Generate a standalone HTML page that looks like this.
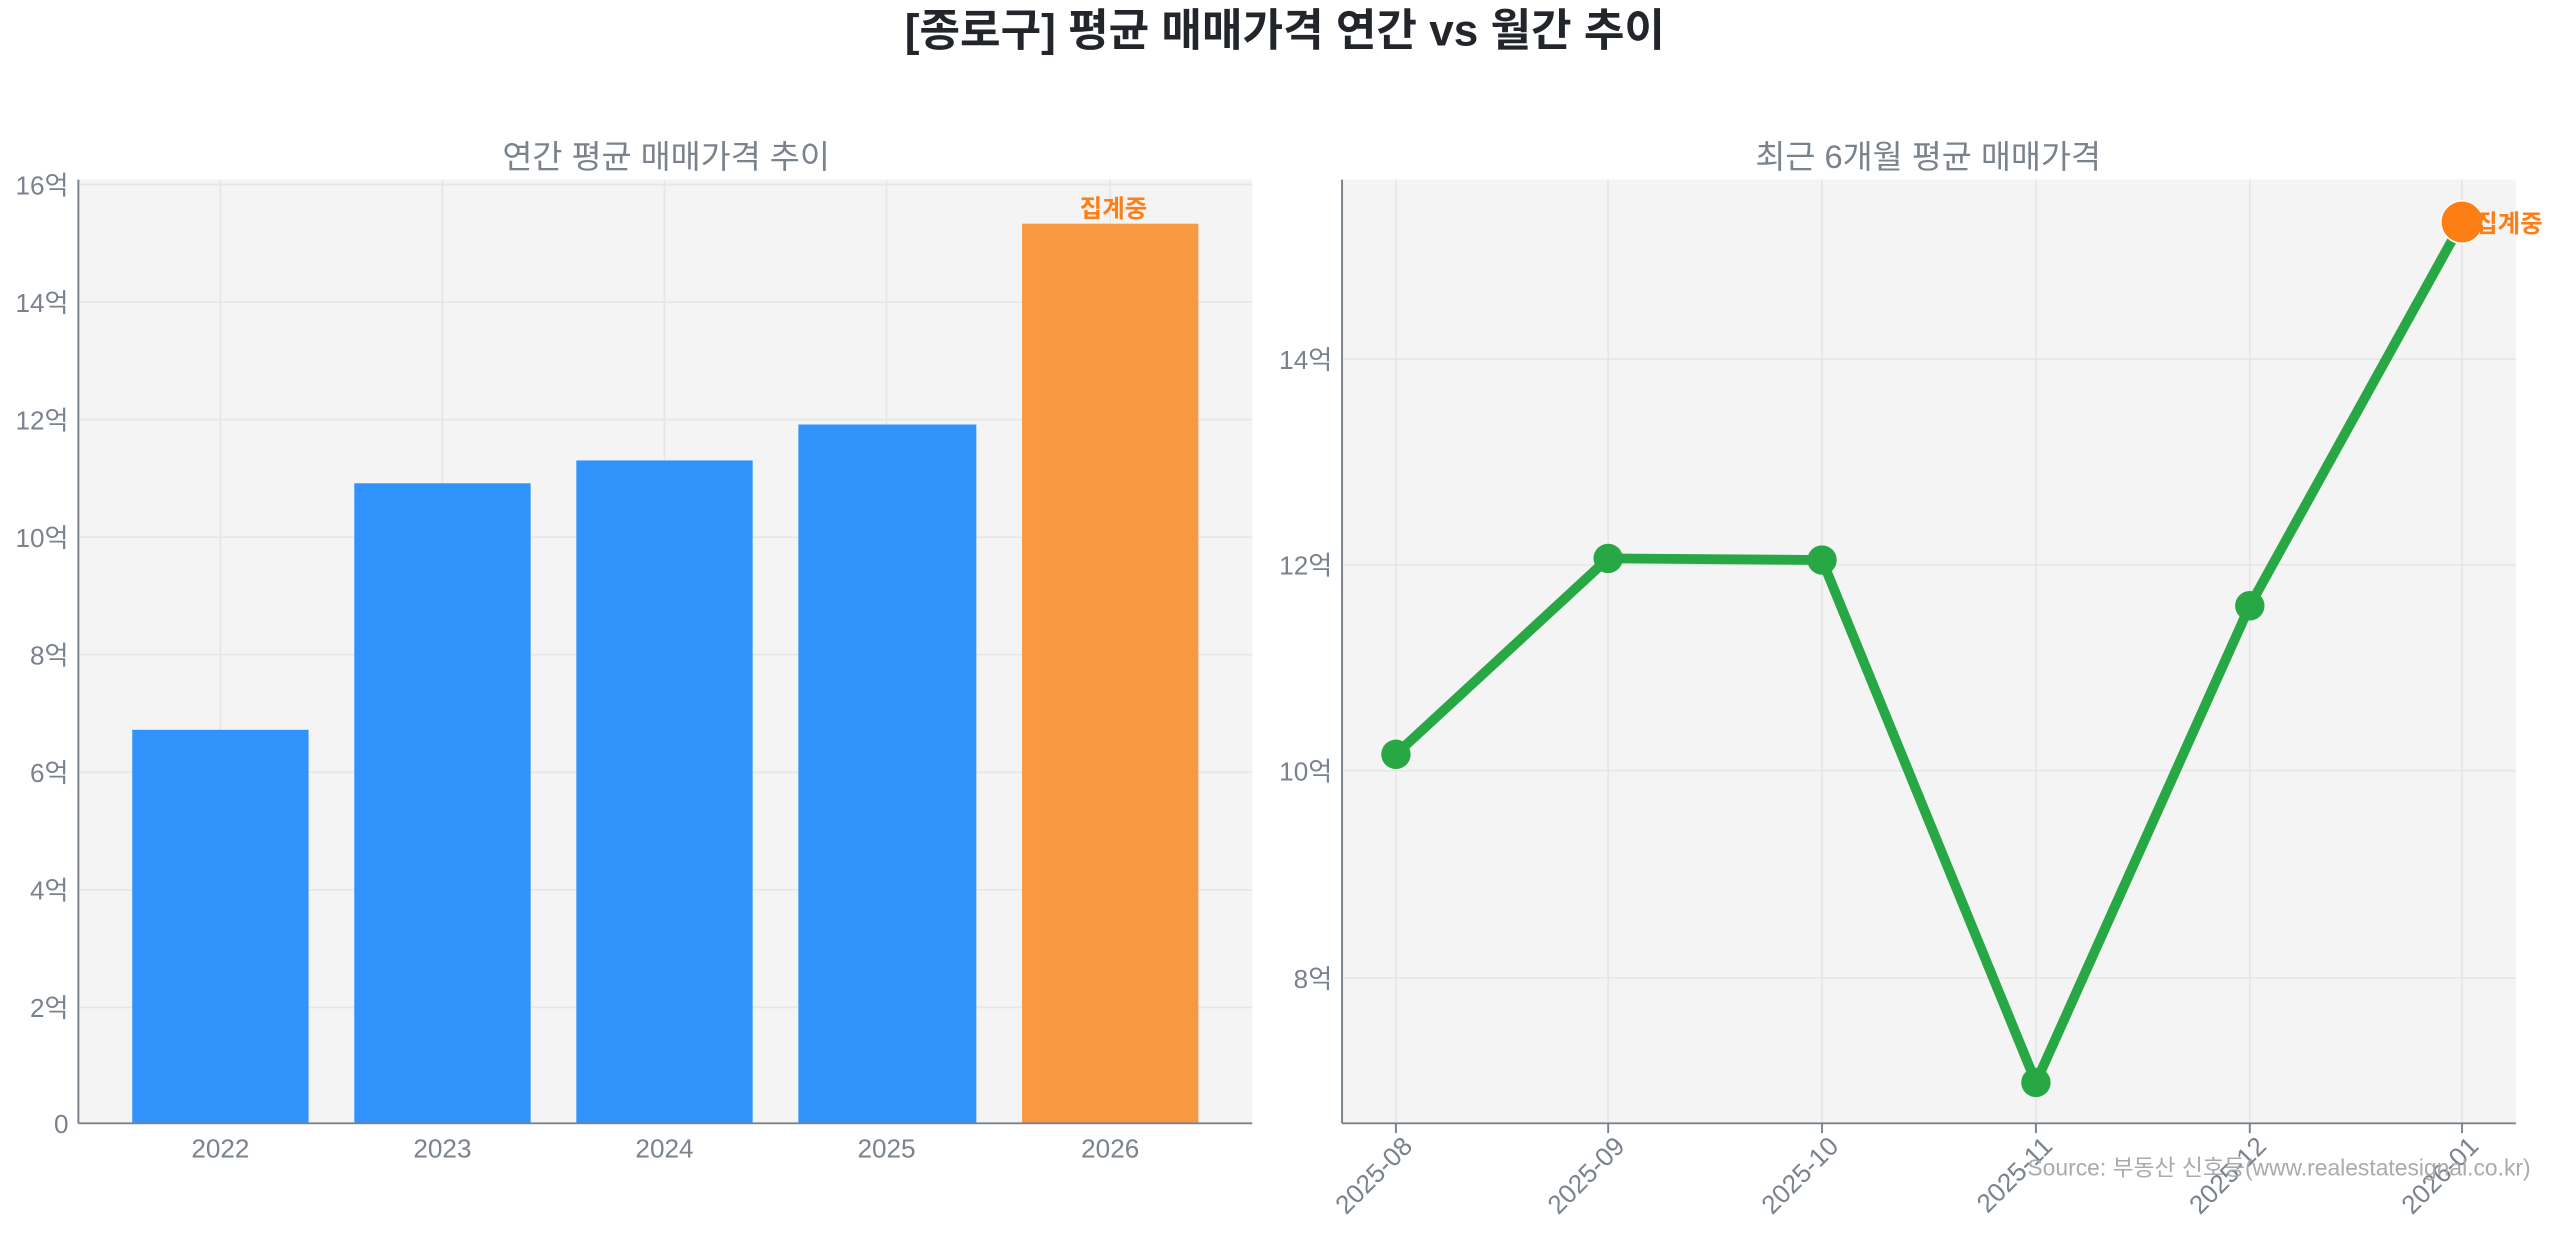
<!DOCTYPE html>
<html><head><meta charset="utf-8"><style>
html,body{margin:0;padding:0;background:#fff;}
svg{display:block;font-family:"Liberation Sans","Noto Sans CJK KR",sans-serif;}
</style></head><body>
<svg width="2560" height="1235" viewBox="0 0 1568 756.4" xmlns="http://www.w3.org/2000/svg">
<rect width="1568" height="756.4" fill="#fff"/>
<text x="787" y="28" text-anchor="middle" font-size="27" font-weight="bold" fill="#22262b">[종로구] 평균 매매가격 연간 vs 월간 추이</text>
<!-- left -->
<text x="408" y="103" text-anchor="middle" font-size="20" fill="#7a828c">연간 평균 매매가격 추이</text>
<rect x="48" y="110" width="719" height="578" fill="#f4f4f4"/>
<g stroke="#e6e6e6" stroke-width="1">
<line x1="48" x2="767" y1="113" y2="113"/><line x1="48" x2="767" y1="185" y2="185"/><line x1="48" x2="767" y1="257" y2="257"/><line x1="48" x2="767" y1="329" y2="329"/><line x1="48" x2="767" y1="401" y2="401"/><line x1="48" x2="767" y1="473" y2="473"/><line x1="48" x2="767" y1="545" y2="545"/><line x1="48" x2="767" y1="617" y2="617"/>
<line x1="135" x2="135" y1="110" y2="688"/><line x1="271" x2="271" y1="110" y2="688"/><line x1="407" x2="407" y1="110" y2="688"/><line x1="543" x2="543" y1="110" y2="688"/><line x1="680" x2="680" y1="110" y2="688"/>
</g>
<rect x="81" y="447" width="108" height="241" fill="#3093fb"/>
<rect x="217" y="296" width="108" height="392" fill="#3093fb"/>
<rect x="353" y="282" width="108" height="406" fill="#3093fb"/>
<rect x="489" y="260" width="109" height="428" fill="#3093fb"/>
<rect x="626" y="137" width="108" height="551" fill="#f89841"/>
<text x="682" y="133" text-anchor="middle" font-size="15" font-weight="bold" fill="#fd7e14">집계중</text>
<g stroke="#7a828c" stroke-width="1.2"><line x1="48" x2="48" y1="110" y2="688"/><line x1="48" x2="767" y1="688" y2="688"/></g>
<g font-size="16" fill="#7a828c" text-anchor="end">
<text x="42" y="694">0</text><text x="42" y="623">2억</text><text x="42" y="551">4억</text><text x="42" y="479">6억</text><text x="42" y="407">8억</text><text x="42" y="335">10억</text><text x="42" y="263">12억</text><text x="42" y="191">14억</text><text x="42" y="119">16억</text>
</g>
<g font-size="16" fill="#7a828c" text-anchor="middle">
<text x="135" y="709">2022</text><text x="271" y="709">2023</text><text x="407" y="709">2024</text><text x="543" y="709">2025</text><text x="680" y="709">2026</text>
</g>
<!-- right -->
<text x="1181" y="103" text-anchor="middle" font-size="20" fill="#7a828c">최근 6개월 평균 매매가격</text>
<rect x="822" y="110" width="719" height="578" fill="#f4f4f4"/>
<g stroke="#e6e6e6" stroke-width="1">
<line x1="822" x2="1541" y1="220" y2="220"/><line x1="822" x2="1541" y1="346" y2="346"/><line x1="822" x2="1541" y1="472" y2="472"/><line x1="822" x2="1541" y1="599" y2="599"/>
<line x1="855" x2="855" y1="110" y2="688"/><line x1="985" x2="985" y1="110" y2="688"/><line x1="1116" x2="1116" y1="110" y2="688"/><line x1="1247" x2="1247" y1="110" y2="688"/><line x1="1378" x2="1378" y1="110" y2="688"/><line x1="1508" x2="1508" y1="110" y2="688"/>
</g>
<polyline points="855,462 985,342 1116,343 1247,663 1378,371 1508,136" fill="none" stroke="#28a745" stroke-width="6" stroke-linejoin="round"/>
<g fill="#28a745"><circle cx="855" cy="462" r="9"/><circle cx="985" cy="342" r="9"/><circle cx="1116" cy="343" r="9"/><circle cx="1247" cy="663" r="9"/><circle cx="1378" cy="371" r="9"/></g>
<circle cx="1508" cy="136" r="13" fill="#fd7e14" stroke="#fff" stroke-width="1"/>
<text x="1516" y="142" font-size="15" font-weight="bold" fill="#fd7e14">집계중</text>
<g stroke="#7a828c" stroke-width="1.2"><line x1="822" x2="822" y1="110" y2="688"/><line x1="822" x2="1541" y1="688" y2="688"/>
<line x1="855" x2="855" y1="688" y2="694"/><line x1="985" x2="985" y1="688" y2="694"/><line x1="1116" x2="1116" y1="688" y2="694"/><line x1="1247" x2="1247" y1="688" y2="694"/><line x1="1378" x2="1378" y1="688" y2="694"/><line x1="1508" x2="1508" y1="688" y2="694"/></g>
<g font-size="16" fill="#7a828c" text-anchor="end">
<text x="816" y="605">8억</text><text x="816" y="478">10억</text><text x="816" y="352">12억</text><text x="816" y="226">14억</text>
</g>
<g font-size="16" fill="#7a828c" text-anchor="end">
<text transform="translate(866,703) rotate(-45)">2025-08</text>
<text transform="translate(996,703) rotate(-45)">2025-09</text>
<text transform="translate(1127,703) rotate(-45)">2025-10</text>
<text transform="translate(1258,703) rotate(-45)">2025-11</text>
<text transform="translate(1389,703) rotate(-45)">2025-12</text>
<text transform="translate(1519,703) rotate(-45)">2026-01</text>
</g>
<text x="1550" y="720" text-anchor="end" font-size="14" fill="#aaaaaa">Source: 부동산 신호등(www.realestatesignal.co.kr)</text>
</svg>
</body></html>
